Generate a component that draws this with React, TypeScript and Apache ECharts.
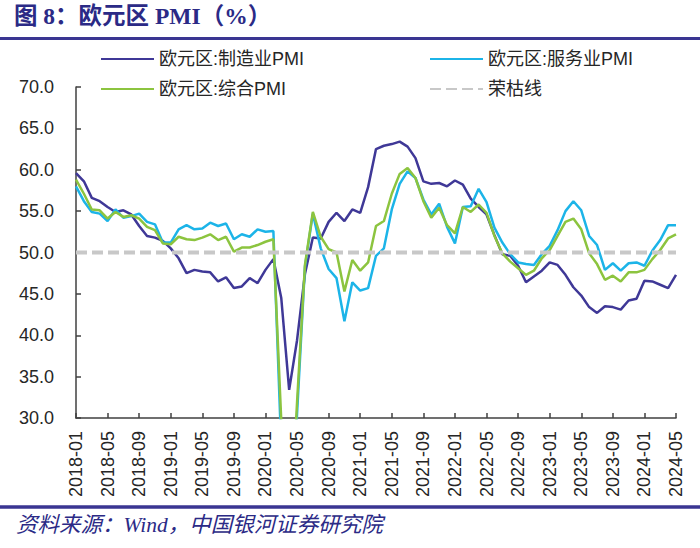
import React, { useEffect, useRef } from "react";
import * as echarts from "echarts";

const months: string[] = [];
for (let y = 2018; y <= 2024; y++) {
  for (let m = 1; m <= 12; m++) {
    if (y === 2024 && m > 5) break;
    months.push(`${y}-${m < 10 ? "0" + m : m}`);
  }
}

const manufacturing = [
  59.6, 58.6, 56.6, 56.2, 55.5, 54.9, 55.1, 54.6, 53.2, 52.0, 51.8, 51.4,
  50.5, 49.3, 47.5, 47.9, 47.7, 47.6, 46.5, 47.0, 45.7, 45.9, 46.9, 46.3,
  47.9, 49.2, 44.5, 33.4, 39.4, 47.4, 51.8, 51.7, 53.7, 54.8, 53.8, 55.2,
  54.8, 57.9, 62.5, 62.9, 63.1, 63.4, 62.8, 61.4, 58.6, 58.3, 58.4, 58.0,
  58.7, 58.2, 56.5, 55.5, 54.6, 52.1, 49.8, 49.6, 48.4, 46.4, 47.1, 47.8,
  48.8, 48.5, 47.3, 45.8, 44.8, 43.4, 42.7, 43.5, 43.4, 43.1, 44.2, 44.4,
  46.6, 46.5, 46.1, 45.7, 47.3,
];

const services = [
  58.0, 56.2, 54.9, 54.7, 53.8, 55.2, 54.2, 54.4, 54.7, 53.7, 53.4, 51.2,
  51.2, 52.8, 53.3, 52.8, 52.9, 53.6, 53.2, 53.5, 51.6, 52.2, 51.9, 52.8,
  52.5, 52.6, 26.4, 12.0, 30.5, 48.3, 54.7, 50.5, 48.0, 46.9, 41.7, 46.4,
  45.4, 45.7, 49.6, 50.5, 55.2, 58.3, 59.8, 59.0, 56.4, 54.6, 55.9, 53.1,
  51.1, 55.5, 55.6, 57.7, 56.1, 53.0, 51.2, 49.8, 48.8, 48.6, 48.5, 49.8,
  50.8, 52.7, 55.0, 56.2, 55.1, 52.0, 50.9, 47.9, 48.7, 47.8, 48.7, 48.8,
  48.4, 50.2, 51.5, 53.3, 53.3,
];

const composite = [
  58.8, 57.1, 55.2, 55.1, 54.1, 54.9, 54.3, 54.5, 54.1, 53.1, 52.7, 51.1,
  51.0, 51.9, 51.6, 51.5, 51.8, 52.2, 51.5, 51.9, 50.1, 50.6, 50.6, 50.9,
  51.3, 51.6, 29.7, 13.6, 31.9, 48.5, 54.9, 51.9, 50.4, 50.0, 45.3, 49.1,
  47.8, 48.8, 53.2, 53.8, 57.1, 59.5, 60.2, 59.0, 56.2, 54.2, 55.4, 53.3,
  52.3, 55.5, 54.9, 55.8, 54.8, 52.0, 49.9, 48.9, 48.1, 47.3, 47.8, 49.3,
  50.3, 52.0, 53.7, 54.1, 52.8, 49.9, 48.6, 46.7, 47.2, 46.5, 47.6, 47.6,
  47.9, 49.2, 50.3, 51.7, 52.2,
];

const THRESHOLD = 50;
const threshold = months.map(() => THRESHOLD);

const NAMES = ["欧元区:制造业PMI", "欧元区:服务业PMI", "欧元区:综合PMI", "荣枯线"];

const SANS = '"Liberation Sans", Arial, "Noto Sans CJK SC", sans-serif';
const SERIF = '"Liberation Serif", "Noto Sans CJK SC", serif';
const AXIS = "#404040";
const TEXT = "#262626";
const NAVY = "#2B2A86";

export default function App() {
  const ref = useRef<HTMLDivElement>(null);
  useEffect(() => {
    if (!ref.current) return;
    const chart = echarts.init(ref.current, undefined, { renderer: "svg" });
    const legendBase = {
      itemWidth: 53,
      itemHeight: 14,
      itemGap: 0,
      itemStyle: { opacity: 0 },
      textStyle: { fontSize: 18, color: TEXT, fontFamily: SANS },
    };
    chart.setOption({
      animation: false,
      backgroundColor: "#ffffff",
      grid: { left: 76, right: 24, top: 87, bottom: 130, containLabel: false, outerBoundsMode: "none" },
      legend: [
        { ...legendBase, data: [NAMES[0]], left: 95, top: 45 },
        { ...legendBase, data: [NAMES[1]], left: 424, top: 45 },
        { ...legendBase, data: [NAMES[2]], left: 95, top: 75 },
        { ...legendBase, data: [NAMES[3]], left: 424, top: 75 },
      ],
      xAxis: {
        type: "category",
        data: months,
        boundaryGap: false,
        axisLine: { show: true, lineStyle: { color: AXIS, width: 1.5 } },
        axisTick: { show: true, inside: true, interval: 3, length: 5, lineStyle: { color: AXIS, width: 1.5 } },
        axisLabel: { interval: 3, rotate: 90, fontSize: 18, color: TEXT, margin: 13, fontFamily: SANS },
        splitLine: { show: false },
      },
      yAxis: {
        type: "value",
        min: 30,
        max: 70,
        interval: 5,
        axisLine: { show: true, lineStyle: { color: AXIS, width: 1.5 } },
        axisTick: { show: true, inside: true, length: 5, lineStyle: { color: AXIS, width: 1.5 } },
        axisLabel: { formatter: (v: number) => v.toFixed(1), fontSize: 18, color: TEXT, margin: 22, fontFamily: SANS },
        splitLine: { show: false },
      },
      series: [
        { name: NAMES[0], type: "line", data: manufacturing, symbol: "none", lineStyle: { color: "#3F3897", width: 2.5 }, itemStyle: { color: "#3F3897" } },
        { name: NAMES[1], type: "line", data: services, symbol: "none", lineStyle: { color: "#1CB4E8", width: 2.5 }, itemStyle: { color: "#1CB4E8" } },
        { name: NAMES[2], type: "line", data: composite, symbol: "none", lineStyle: { color: "#8CC43F", width: 2.5 }, itemStyle: { color: "#8CC43F" } },
        { name: NAMES[3], type: "line", data: threshold, symbol: "none", lineStyle: { color: "#C8C8C8", width: 4, type: [11, 5] }, itemStyle: { color: "#C8C8C8" } },
      ],
      graphic: [
        { type: "text", left: 14, top: 4, style: { text: "图 8：欧元区 PMI（%）", fontSize: 23.5, fontWeight: "bold", fill: NAVY, fontFamily: SERIF } },
        { type: "line", shape: { x1: 0, y1: 38.5, x2: 700, y2: 38.5 }, style: { stroke: "#3A3592", lineWidth: 3 } },
        { type: "line", shape: { x1: 0, y1: 507, x2: 700, y2: 507 }, style: { stroke: "#3A3592", lineWidth: 3.5 } },
        { type: "text", left: 16, top: 514, style: { text: "资料来源：Wind，中国银河证券研究院", fontSize: 21.5, fontStyle: "italic", fill: NAVY, fontFamily: SERIF } },
      ],
    });
    return () => chart.dispose();
  }, []);
  return <div ref={ref} style={{ position: "fixed", left: 0, top: 0, width: 700, height: 548 }} />;
}
